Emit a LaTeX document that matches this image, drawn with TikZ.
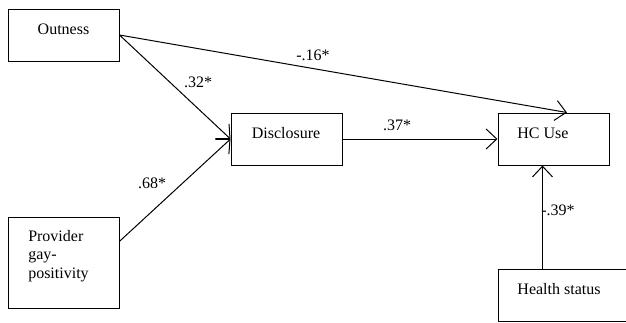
\documentclass[tikz,border=0pt]{standalone}
\usepackage{fontspec}
\setmainfont{Liberation Serif}
\usetikzlibrary{arrows.meta,calc}
\begin{document}
\begin{tikzpicture}[x=0.75pt,y=-0.75pt,
  box/.style={draw, line width=0.75pt, minimum width=83.25pt, minimum height=39pt, inner sep=0pt},
  txt/.style={font=\fontsize{12}{13.9}\selectfont, inner sep=0pt},
  lbl/.style={font=\fontsize{12}{13.9}\selectfont, inner sep=0pt},
  conn/.style={line width=0.75pt, -{Straight Barb[length=8pt,width=15pt,line width=0.75pt]}}]
\useasboundingbox (0,0) rectangle (626,322);
\clip (0,0) rectangle (626,322);
% boxes
\node[box] (out) at (63.5,35) {};
\node[box] (dis) at (286.5,139) {};
\node[box] (hc) at (553.5,139) {};
\node[box, minimum height=68.25pt] (prov) at (63.5,262.5) {};
\node[box, minimum width=114pt] (health) at (574,295) {};
% texts
\node[txt] (outT) at (63.5,29) {Outness};
\node[txt] (disT) at (286,133) {Disclosure};
\node[txt] (hcT) at (543,133) {HC Use};
\node[txt, align=left, anchor=north west] (provT) at (28,230) {Provider\\gay-\\positivity};
\node[txt] (healthT) at (559,289) {Health status};
% connectors
\coordinate (hcTop) at ($(hc.north west)!0.62!(hc.north east)$);
\coordinate (provOut) at ($(prov.north east)!0.27!(prov.south east)$);
\coordinate (hsTop) at ($(health.north west)+(45,0)$);
\draw[conn] (out.east) -- (dis.west);
\draw[conn] (out.east) -- (hcTop);
\draw[conn] (dis.east) -- (hc.west);
\draw[conn] (provOut) -- (dis.west);
\draw[conn] (hsTop) -- (hsTop |- hc.south);
% labels
\node[lbl] (l32) at (198,82) {.32*};
\node[lbl] (l16) at (313,55) {-.16*};
\node[lbl] (l37) at (397,125) {.37*};
\node[lbl] (l68) at (152,183) {.68*};
\node[lbl] (l39) at (558,210) {-.39*};
\end{tikzpicture}
\end{document}
